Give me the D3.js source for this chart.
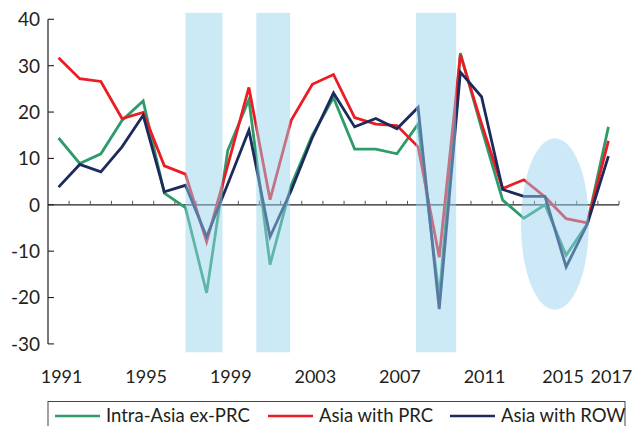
<!DOCTYPE html>
<html>
<head>
<meta charset="utf-8">
<script src="https://cdn.jsdelivr.net/npm/d3@7"></script>
<style>
  body { margin: 0; background: #fff; }
  svg { font-family: Lato, "Open Sans", sans-serif; }
</style>
</head>
<body>
<div id="chart"></div>
<script>
// DATA
const years = d3.range(1991, 2018);
const intraAsiaExPRC = [14.4, 8.9, 11.0, 18.2, 22.4, 2.5, -0.6, -19.0, 11.7, 22.7, -12.9, 4.2, 15.0, 23.1, 12.0, 12.0, 11.0, 17.4, -20.0, 32.7, 16.5, 1.0, -2.9, 0.0, -10.9, -4.1, 16.8];
const asiaWithPRC    = [31.7, 27.2, 26.6, 18.6, 19.9, 8.4, 6.6, -8.0, 8.5, 25.3, 1.1, 18.2, 26.0, 28.1, 18.8, 17.4, 17.1, 12.5, -11.3, 32.4, 17.5, 3.5, 5.4, 1.7, -3.0, -3.9, 13.8];
const asiaWithROW    = [3.8, 8.7, 7.1, 12.5, 19.3, 2.8, 4.2, -6.9, 4.5, 16.1, -6.9, 3.1, 14.5, 24.1, 16.8, 18.6, 16.4, 21.0, -22.5, 28.6, 23.3, 3.3, 1.8, 1.8, -13.4, -4.2, 10.5];
const seriesNames = ["Intra-Asia ex-PRC", "Asia with PRC", "Asia with ROW"];
const yTicks = [40, 30, 20, 10, 0, -10, -20, -30];
const yearLabels = [1991, 1995, 1999, 2003, 2007, 2011, 2015, 2017];

// shaded crisis periods (in years) and the 2015 ellipse
const bandStart = [1997.0, 2000.35, 2007.9];
const bandEnd   = [1998.75, 2001.95, 2009.8];
const bandTop = 41.4, bandBottom = -31.8;
const ellipseYear = 2014.47, ellipseYears = 1.61, ellipseValue = -4.15, ellipseSpan = 18.5;

// SETUP
const width = 636, height = 426;
const colors = ["#2e9c6a", "#ec1c24", "#1c2a5c"];
const textColor = "#231f20";

const svg = d3.select("#chart").append("svg")
    .attr("width", width)
    .attr("height", height);

const x = d3.scaleLinear().domain([1990.5, 2017.5]).range([48, 619]);
const y = d3.scaleLinear().domain([-30, 40]).range([343.9, 19.3]);

// AXES
svg.append("line")
    .attr("x1", x(1990.5)).attr("x2", x(1990.5))
    .attr("y1", y(40)).attr("y2", y(-30))
    .attr("stroke", textColor).attr("stroke-width", 1.2);

svg.selectAll(".ytick")
    .data(yTicks)
    .enter().append("line")
    .attr("x1", x(1990.5)).attr("x2", x(1990.5) + 6)
    .attr("y1", d => y(d)).attr("y2", d => y(d))
    .attr("stroke", textColor).attr("stroke-width", 1.1);

svg.selectAll(".ylab")
    .data(yTicks)
    .enter().append("text")
    .attr("x", 40)
    .attr("y", d => y(d))
    .attr("dy", "0.36em")
    .attr("text-anchor", "end")
    .attr("font-size", 19)
    .attr("fill", textColor)
    .text(d => d);

// zero line with small ticks between years
svg.append("line")
    .attr("x1", x(1990.5)).attr("x2", x(2017.5))
    .attr("y1", y(0)).attr("y2", y(0))
    .attr("stroke", textColor).attr("stroke-width", 1.3);

svg.selectAll(".xtick")
    .data(d3.range(1991.5, 2018, 1))
    .enter().append("line")
    .attr("x1", d => x(d)).attr("x2", d => x(d))
    .attr("y1", y(0)).attr("y2", y(0) - 4)
    .attr("stroke", "#555").attr("stroke-width", 1);

svg.selectAll(".xlab")
    .data(yearLabels)
    .enter().append("text")
    .attr("x", d => x(d) + (d === 2015 ? -3 : 3))
    .attr("y", 383)
    .attr("text-anchor", "middle")
    .attr("font-size", 18)
    .attr("fill", textColor)
    .text(d => d);

// LINES
const allSeries = [intraAsiaExPRC, asiaWithPRC, asiaWithROW];
const line = d3.line()
    .x((d, i) => x(years[i]))
    .y(d => y(d));

svg.selectAll(".series")
    .data(allSeries)
    .enter().append("path")
    .attr("d", line)
    .attr("fill", "none")
    .attr("stroke", (d, i) => colors[i])
    .attr("stroke-width", 2.8)
    .attr("stroke-linejoin", "miter");

// SHADED OVERLAYS (drawn on top, semi transparent)
const shade = svg.append("g").attr("opacity", 0.48);

shade.selectAll("rect")
    .data(bandStart)
    .enter().append("rect")
    .attr("x", d => x(d))
    .attr("width", (d, i) => x(bandEnd[i]) - x(d))
    .attr("y", y(bandTop))
    .attr("height", y(bandBottom) - y(bandTop))
    .attr("fill", "rgb(150,210,238)");

shade.append("ellipse")
    .attr("cx", x(ellipseYear))
    .attr("cy", y(ellipseValue))
    .attr("rx", x(ellipseYear + ellipseYears) - x(ellipseYear))
    .attr("ry", y(0) - y(ellipseSpan))
    .attr("fill", "rgb(150,210,238)");

// LEGEND
svg.append("rect")
    .attr("x", 48).attr("y", 401.5)
    .attr("width", 577).attr("height", 40)
    .attr("fill", "none")
    .attr("stroke", "#444").attr("stroke-width", 1);

const legendX = [55, 268, 450];
const legend = svg.selectAll(".legend")
    .data(seriesNames)
    .enter().append("g")
    .attr("transform", (d, i) => `translate(${legendX[i]},416)`);

legend.append("line")
    .attr("x1", 0).attr("x2", 45)
    .attr("stroke", (d, i) => colors[i])
    .attr("stroke-width", 2.5);

legend.append("text")
    .attr("x", 51)
    .attr("dy", "0.35em")
    .attr("font-size", 18.5)
    .attr("fill", textColor)
    .text(d => d);
</script>
</body>
</html>
